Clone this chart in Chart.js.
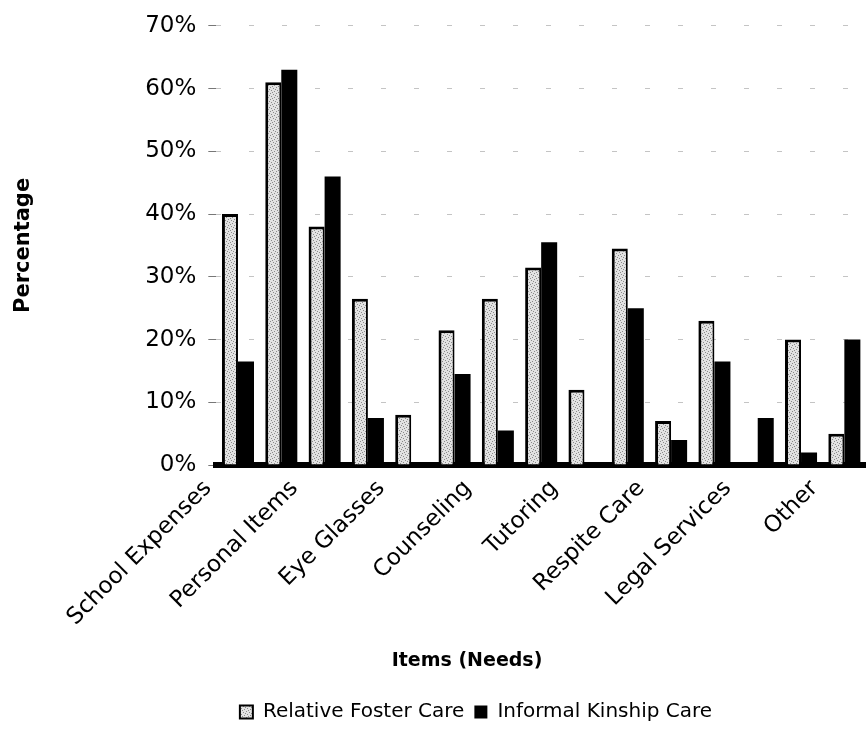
<!DOCTYPE html>
<html>
<head>
<meta charset="utf-8">
<script src="https://cdn.jsdelivr.net/npm/chart.js@4.4.1/dist/chart.umd.min.js"></script>
<style>
html,body{margin:0;padding:0;background:#fff;}
#c{display:block;}
</style>
</head>
<body>
<canvas id="c" width="866" height="738"></canvas>
<script>
// 15 categories; only every other label is printed in the source chart
const categories = ['School Expenses','','Personal Items','','Eye Glasses','','Counseling','','Tutoring','','Respite Care','','Legal Services','','Other'];
const relativeFosterCare   = [40, 61, 38, 26.5, 8, 21.5, 26.5, 31.5, 12, 34.5, 7, 23, 0, 20, 5];
const informalKinshipCare  = [16.5, 63, 46, 7.5, 0, 14.5, 5.5, 35.5, 0, 25, 4, 16.5, 7.5, 2, 20];
const yTicks = [0, 10, 20, 30, 40, 50, 60, 70];

// speckled light fill like the scanned bars
const pc = document.createElement('canvas');
pc.width = 6; pc.height = 6;
const pg = pc.getContext('2d');
pg.fillStyle = '#e2e2e2'; pg.fillRect(0, 0, 6, 6);
pg.fillStyle = '#8a8a8a';
[[1,0],[4,1],[0,3],[3,4],[5,5],[2,2]].forEach(p => pg.fillRect(p[0], p[1], 1, 1));
const ctx = document.getElementById('c').getContext('2d');
const speckle = ctx.createPattern(pc, 'repeat');

const shiftPlugin = {
  id: 'shiftBoxes',
  afterLayout(chart) {
    const L = chart.legend;
    if (L) { L.left += 43; L.right += 43; }
    const T = chart.titleBlock;
    if (T) { T.left += 34; T.right += 34; }
  }
};

new Chart(ctx, {
  type: 'bar',
  data: {
    labels: categories,
    datasets: [
      {
        label: 'Relative Foster Care',
        data: relativeFosterCare,
        backgroundColor: speckle,
        borderColor: '#000',
        borderWidth: {top: 3, left: 3, right: 2, bottom: 0},
        barPercentage: 1,
        categoryPercentage: 0.74
      },
      {
        label: 'Informal Kinship Care',
        data: informalKinshipCare,
        backgroundColor: '#000',
        borderColor: '#000',
        borderWidth: 0,
        barPercentage: 1,
        categoryPercentage: 0.74
      }
    ]
  },
  options: {
    responsive: false,
    animation: false,
    devicePixelRatio: 1,
    layout: {padding: {top: 24, right: 0, bottom: 6, left: 0}},
    scales: {
      x: {
        afterFit(scale) { scale.paddingRight = 0; scale.paddingLeft = 0; },
        grid: {display: false, drawTicks: false},
        border: {display: true, color: '#000', width: 6},
        ticks: {
          autoSkip: false, maxRotation: 45, minRotation: 45,
          color: '#000', padding: 10, labelOffset: -30,
          font: {family: 'DejaVu Sans', size: 23}
        }
      },
      y: {
        min: 0, max: 70,
        afterBuildTicks(scale) { scale.ticks = yTicks.map(v => ({value: v})); },
        ticks: {
          color: '#000', padding: 12,
          font: {family: 'DejaVu Sans', size: 23},
          callback: v => v + '%'
        },
        grid: {color: '#c4c4c4', lineWidth: 1, tickColor: '#777', tickLength: 8, drawTicks: true},
        border: {display: false, dash: [5, 28]},
        title: {
          display: true, text: 'Percentage', color: '#000',
          font: {family: 'DejaVu Sans', size: 21, weight: 'bold'},
          padding: {top: 11, bottom: 97}
        }
      }
    },
    plugins: {
      legend: {
        position: 'bottom',
        labels: {
          color: '#000', padding: 10, boxWidth: 13, boxHeight: 13,
          font: {family: 'DejaVu Sans', size: 20}
        }
      },
      title: {
        display: true, position: 'bottom', weight: 500,
        text: 'Items (Needs)', color: '#000',
        font: {family: 'DejaVu Sans', size: 19, weight: 'bold'},
        padding: {top: 8, bottom: 20}
      },
      tooltip: {enabled: false}
    }
  },
  plugins: [shiftPlugin]
});
</script>
</body>
</html>
